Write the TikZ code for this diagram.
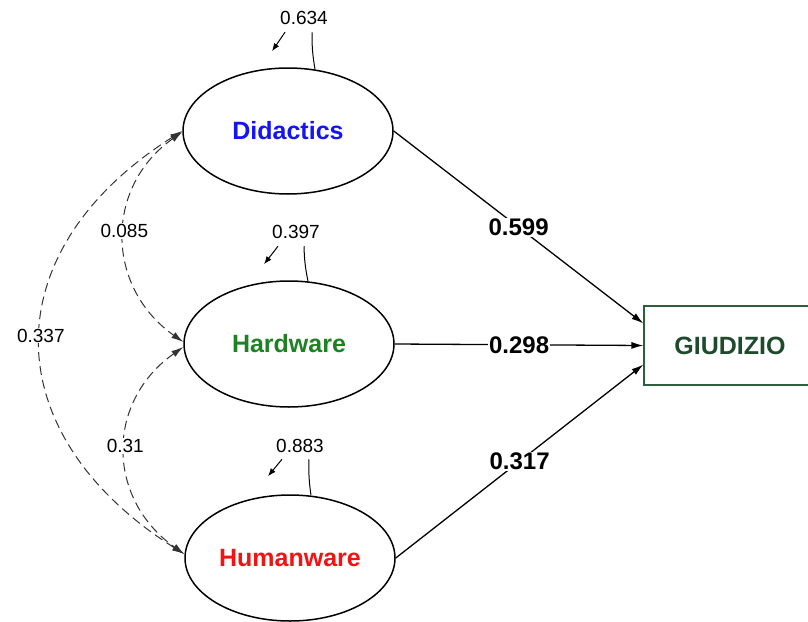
\documentclass[tikz,border=0pt]{standalone}
\usepackage{fontspec}
\setmainfont{Liberation Sans}
\usetikzlibrary{arrows.meta,shapes.geometric,calc}
\definecolor{didblue}{RGB}{20,20,245}
\definecolor{hwgreen}{RGB}{30,130,35}
\definecolor{humred}{RGB}{240,20,20}
\definecolor{giutext}{RGB}{30,75,45}
\definecolor{giuframe}{RGB}{45,95,60}
\begin{document}
\begin{tikzpicture}[x=1pt,y=-1pt,
  latent/.style={ellipse, draw, line width=1.5pt, fill=white,
    minimum width=210pt, minimum height=126pt, inner sep=0pt,
    font=\fontsize{25}{30}\selectfont\bfseries},
  observed/.style={rectangle, draw=giuframe, line width=1.2pt, fill=white,
    minimum width=172pt, minimum height=79pt, text=giutext,
    font=\fontsize{25}{30}\selectfont\bfseries},
  regpath/.style={line width=1.3pt, -{Latex[length=12pt,width=7pt]}},
  coef/.style={fill=white, inner sep=1pt, font=\fontsize{24}{27}\selectfont\bfseries},
  covpath/.style={dash pattern=on 9pt off 5pt, line width=1pt, draw=black!80,
    {Latex[length=12pt,width=7pt]}-{Latex[length=12pt,width=7pt]}},
  covlab/.style={fill=white, inner sep=1pt, font=\fontsize{19}{22}\selectfont},
  resline/.style={line width=1pt},
  resarrow/.style={line width=1pt, -{Latex[length=8pt,width=6pt]}},
  reslab/.style={inner sep=0pt, font=\fontsize{19}{22}\selectfont}]
\useasboundingbox (0,0) rectangle (808,621);

% latent factors and the observed outcome
\node[latent, text=didblue] (did) at (288,131) {Didactics};
\node[latent, text=hwgreen] (hw) at (289,344) {Hardware};
\node[latent, text=humred] (hum) at (290,558) {Humanware};
\node[observed] (giu) at (730,345.5) {GIUDIZIO};

% regression paths
\draw[regpath] (did.east) -- node[coef]{0.599} ([yshift=22pt]giu.west);
\draw[regpath] (hw.east) -- node[coef]{0.298} (giu.west);
\draw[regpath] (hum.east) -- node[coef]{0.317} ([yshift=-19pt]giu.west);

% covariances between factors
\draw[covpath] (did.west) .. controls +(-190,120) and +(-190,-120) ..
  node[covlab, pos=0.485]{0.337} ([yshift=4pt]hum.west);
\draw[covpath] ([yshift=-1pt]did.west) .. controls +(-78,55) and +(-78,-55) ..
  node[covlab, pos=0.475]{0.085} ([yshift=2pt]hw.west);
\draw[covpath] ([yshift=-3pt]hw.west) .. controls +(-78,55) and +(-78,-55) ..
  node[covlab, pos=0.48]{0.31} ([yshift=4pt]hum.west);

% residual variances
\draw[resline] ([xshift=27pt,yshift=-2pt]did.north) to[bend left=5] ([xshift=24pt,yshift=35pt]did.north);
\draw[resarrow] ([xshift=-3pt,yshift=35pt]did.north) -- ([xshift=-16pt,yshift=16pt]did.north);
\node[reslab] (rdid) at ([xshift=16pt,yshift=49pt]did.north) {0.634};

\draw[resline] ([xshift=19pt,yshift=-1pt]hw.north) to[bend left=5] ([xshift=15pt,yshift=34pt]hw.north);
\draw[resarrow] ([xshift=-11pt,yshift=34pt]hw.north) -- ([xshift=-25pt,yshift=16pt]hw.north);
\node[reslab] (rhw) at ([xshift=7pt,yshift=48pt]hw.north) {0.397};

\draw[resline] ([xshift=21pt,yshift=-1pt]hum.north) to[bend left=5] ([xshift=19pt,yshift=35pt]hum.north);
\draw[resarrow] ([xshift=-8pt,yshift=35pt]hum.north) -- ([xshift=-22pt,yshift=18pt]hum.north);
\node[reslab] (rhum) at ([xshift=10pt,yshift=48pt]hum.north) {0.883};
\end{tikzpicture}
\end{document}
